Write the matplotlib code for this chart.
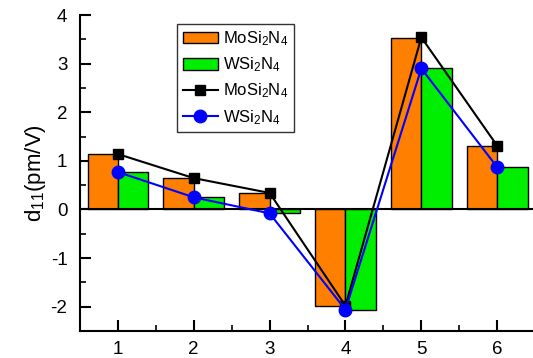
import matplotlib
matplotlib.use("Agg")
import matplotlib.pyplot as plt
from matplotlib.patches import Patch
from matplotlib.lines import Line2D
from matplotlib.ticker import MultipleLocator
import numpy as np

plt.rcParams['font.family'] = ['Liberation Sans', 'DejaVu Sans']
plt.rcParams['mathtext.fontset'] = 'custom'
plt.rcParams['mathtext.rm'] = 'Liberation Sans'
plt.rcParams['mathtext.it'] = 'Liberation Sans:italic'
plt.rcParams['axes.unicode_minus'] = False

x = [1, 2, 3, 4, 5, 6]
mo_bar = [1.15, 0.645, 0.34, -1.98, 3.52, 1.31]
w_bar = [0.77, 0.25, -0.07, -2.06, 2.90, 0.87]
mo_line = [1.14, 0.645, 0.34, -1.98, 3.54, 1.31]
w_line = [0.77, 0.25, -0.08, -2.06, 2.90, 0.87]
label_mo = r'MoSi$_2$N$_4$'
label_w = r'WSi$_2$N$_4$'

fig = plt.figure(figsize=(5.33, 3.58), dpi=100)
ax = fig.add_axes([0.150, 0.0754, 0.854, 0.8827])

xa = np.array(x)
bw = 0.4
ax.bar(xa - bw/2, mo_bar, width=bw, color='#ff8000', edgecolor='black', linewidth=1.0, zorder=2)
ax.bar(xa + bw/2, w_bar, width=bw, color='#00ee00', edgecolor='black', linewidth=1.0, zorder=2)
ax.axhline(0, color='black', linewidth=1.5, zorder=3)
ax.plot(x, mo_line, color='black', marker='s', markersize=7, linewidth=1.5, zorder=4)
ax.plot(x, w_line, color='blue', marker='o', markersize=9, linewidth=1.5, zorder=5)

ax.set_xlim(0.5, 6.5)
ax.set_ylim(-2.5, 4)
ax.set_xticks(x)
ax.set_yticks([-2, -1, 0, 1, 2, 3, 4])
ax.xaxis.set_minor_locator(MultipleLocator(0.5))
ax.yaxis.set_minor_locator(MultipleLocator(0.5))
ax.tick_params(which='major', direction='in', length=8, width=1.5, labelsize=13.5)
ax.tick_params(axis='x', which='major', pad=7.5)
ax.tick_params(axis='y', which='major', pad=9)
ax.tick_params(which='minor', direction='in', length=4, width=1.2)
for s in ['top', 'right']:
    ax.spines[s].set_visible(False)
for s in ['left', 'bottom']:
    ax.spines[s].set_linewidth(1.5)
ax.set_ylabel(r'd$_{11}$(pm/V)', fontsize=16, labelpad=2)

handles = [
    Patch(facecolor='#ff8000', edgecolor='black', linewidth=1.0),
    Patch(facecolor='#00ee00', edgecolor='black', linewidth=1.0),
    Line2D([], [], color='black', marker='s', markersize=7, linewidth=1.5),
    Line2D([], [], color='blue', marker='o', markersize=9, linewidth=1.5),
]
leg = ax.legend(handles, [label_mo, label_w, label_mo, label_w], loc='upper left',
                bbox_to_anchor=(0.213, 0.973), fontsize=12, frameon=True, fancybox=False,
                edgecolor='black', handlelength=2.1, handleheight=0.7, borderpad=0.35,
                labelspacing=0.45, handletextpad=0.3, borderaxespad=0)
leg.get_frame().set_linewidth(1.0)

fig.savefig('out.png', dpi=100)
